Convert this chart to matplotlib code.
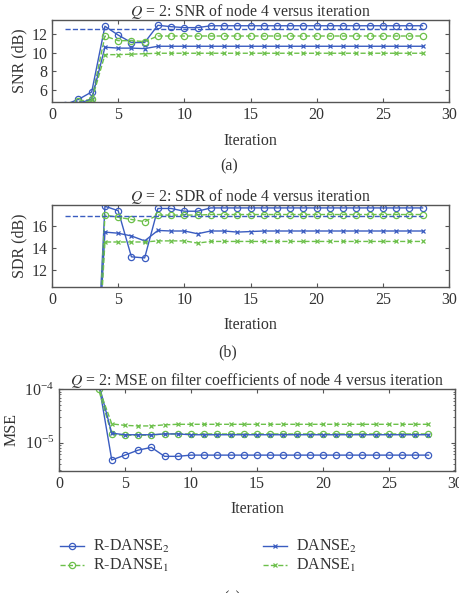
import matplotlib
matplotlib.use("Agg")
import matplotlib.pyplot as plt
import numpy as np

plt.rcParams['font.family'] = ['Liberation Serif', 'DejaVu Serif']
plt.rcParams['mathtext.fontset'] = 'stix'

iterations = list(range(1, 29))

# SNR (dB)
snr_rdanse2 = [4.45, 5.0, 5.8, 12.85, 11.9, 11.1, 11.1, 12.95, 12.8, 12.7, 12.7] + [12.9] * 17
snr_rdanse1 = [4.2, 4.8, 5.0, 11.8, 11.3, 11.3, 11.2, 11.8, 11.8, 11.8, 11.8] + [11.8] * 17
snr_danse2 = [4.0, 4.6, 5.0, 10.6, 10.5, 10.5, 10.45, 10.7, 10.7, 10.7, 10.7] + [10.7] * 17
snr_danse1 = [3.9, 4.5, 4.9, 9.8, 9.8, 9.85, 9.9, 9.95, 9.95, 9.95, 9.95] + [9.95] * 17
snr_ref = 12.55

# SDR (dB)
sdr_rdanse2 = [-8, -7, -6.6, 17.8, 17.4, 13.2, 13.1, 17.6, 17.6, 17.35, 17.35] + [17.65] * 17
sdr_rdanse1 = [-8, -7, -6.6, 17.0, 16.8, 16.6, 16.4, 17.0, 17.0, 17.0, 17.0] + [17.05] * 17
sdr_danse2 = [-8, -7, -6.6, 15.45, 15.35, 15.1, 14.65, 15.6, 15.55, 15.55, 15.3,
              15.55, 15.55, 15.45, 15.5] + [15.55] * 13
sdr_danse1 = [-8, -7, -6.6, 14.55, 14.55, 14.55, 14.55, 14.65, 14.65, 14.65, 14.45,
              14.6, 14.6, 14.6, 14.6] + [14.6] * 13
sdr_ref = 16.9

# MSE
mse_rdanse2 = [5e-4, 3e-4, 1.35e-4, 4.7e-6, 5.8e-6, 7.2e-6, 8.1e-6, 5.5e-6, 5.5e-6] + [5.8e-6] * 19
mse_rdanse1 = [4e-4, 2e-4, 1.0e-4, 1.42e-5, 1.37e-5, 1.37e-5, 1.38e-5, 1.45e-5, 1.45e-5] + [1.45e-5] * 19
mse_danse2 = [5e-4, 3e-4, 1.3e-4, 1.5e-5, 1.4e-5, 1.4e-5, 1.4e-5, 1.45e-5, 1.45e-5] + [1.4e-5] * 19
mse_danse1 = [4e-4, 2e-4, 1.1e-4, 2.24e-5, 2.1e-5, 2.05e-5, 2.05e-5, 2.15e-5, 2.2e-5] + [2.2e-5] * 19

blue = '#3a5cc0'
green = '#6cc04a'
txt = '#333333'
spine = '#555555'

fig = plt.figure(figsize=(4.59, 5.93), dpi=100)

LBL = 11.5
TICK = 11.5
TITLE = 11.3

def style(ax):
    for s in ax.spines.values():
        s.set_color(spine)
        s.set_linewidth(1.0)
    ax.tick_params(direction='in', top=True, right=True, colors=spine,
                   labelcolor=txt, labelsize=TICK, length=3)
    ax.tick_params(which='minor', direction='in', top=False, right=True, colors=spine, length=1.5)
    ax.set_xlim(0, 30)
    ax.set_xticks([0, 5, 10, 15, 20, 25, 30])
    ax.set_xlabel('Iteration', color=txt, fontsize=LBL, labelpad=7)

def plot_series(ax, a, b, c, d):
    h1, = ax.plot(iterations, a, '-', color=blue, marker='o', ms=4.5, mfc='none', mew=0.9, lw=1.0)
    h2, = ax.plot(iterations, b, '--', color=green, marker='o', ms=4.5, mfc='none', mew=0.9, lw=1.0)
    h3, = ax.plot(iterations, c, '-', color=blue, marker='x', ms=3.5, mew=0.9, lw=1.0)
    h4, = ax.plot(iterations, d, '--', color=green, marker='x', ms=3.5, mew=0.9, lw=1.0)
    return [h1, h2, h3, h4]

# (a)
ax1 = fig.add_axes([0.1133, 0.828, 0.865, 0.138])
plot_series(ax1, snr_rdanse2, snr_rdanse1, snr_danse2, snr_danse1)
ax1.plot([1, 28], [snr_ref, snr_ref], '--', color=blue, lw=1.0)
ax1.set_ylim(4.72, 13.5)
ax1.set_yticks([6, 8, 10, 12])
ax1.set_ylabel('SNR (dB)', color=txt, fontsize=LBL, labelpad=3)
ax1.set_title('$Q$ = 2: SNR of node 4 versus iteration', color=txt, fontsize=TITLE, pad=3)
style(ax1)
fig.text(0.5, 1 - 166 / 593, '(a)', ha='center', va='center', color=txt, fontsize=LBL)

# (b)
ax2 = fig.add_axes([0.1133, 0.5165, 0.865, 0.1375])
plot_series(ax2, sdr_rdanse2, sdr_rdanse1, sdr_danse2, sdr_danse1)
ax2.plot([1, 28], [sdr_ref, sdr_ref], '--', color=blue, lw=1.0)
ax2.set_ylim(10.48, 17.9)
ax2.set_yticks([12, 14, 16])
ax2.set_ylabel('SDR (dB)', color=txt, fontsize=LBL, labelpad=3)
ax2.set_title('$Q$ = 2: SDR of node 4 versus iteration', color=txt, fontsize=TITLE, pad=3)
style(ax2)
fig.text(0.497, 1 - 352 / 593, '(b)', ha='center', va='center', color=txt, fontsize=LBL)

# (c)
ax3 = fig.add_axes([0.1285, 0.2063, 0.8625, 0.1372])
hs = plot_series(ax3, mse_rdanse2, mse_rdanse1, mse_danse2, mse_danse1)
ax3.set_yscale('log')
ax3.set_ylim(2.96e-6, 1.0e-4)
ax3.set_ylabel('MSE', color=txt, fontsize=LBL, labelpad=3)
ax3.set_title('$Q$ = 2: MSE on filter coefficients of node 4 versus iteration',
              color=txt, fontsize=TITLE, pad=3)
style(ax3)
ax3.yaxis.set_minor_locator(matplotlib.ticker.LogLocator(base=10, subs=np.arange(2, 10)))
ax3.yaxis.set_minor_formatter(matplotlib.ticker.NullFormatter())
fig.text(0.505, 1 - 598 / 593, '(c)', ha='center', va='center', color=txt, fontsize=LBL)

labels = ['R-DANSE$_2$', 'R-DANSE$_1$', 'DANSE$_2$', 'DANSE$_1$']
leg = fig.legend(hs, labels, ncol=2, loc='upper left',
                 bbox_to_anchor=(0.0985, 1 - 524 / 593), frameon=False,
                 fontsize=LBL, handlelength=1.5, handletextpad=0.6,
                 columnspacing=5.8, labelspacing=0.12)
for t in leg.get_texts():
    t.set_color(txt)

fig.savefig('out.png', dpi=100)
